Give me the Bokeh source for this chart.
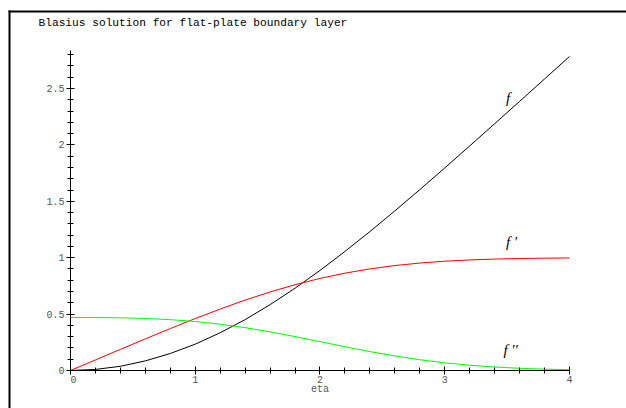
import numpy as np
from bokeh.plotting import figure
from bokeh.models import Range1d, FixedTicker, Label, BoxAnnotation
from bokeh.embed import file_html
from bokeh.resources import INLINE

# ---- data ----
eta = [0.0, 0.2, 0.4, 0.6, 0.8, 1.0, 1.2, 1.4, 1.6, 1.8, 2.0,
       2.2, 2.4, 2.6, 2.8, 3.0, 3.2, 3.4, 3.6, 3.8, 4.0]
f = [0.0, 0.0094, 0.0375, 0.0852, 0.1507, 0.2333, 0.3347, 0.4511, 0.5837, 0.7295, 0.8871,
     1.0555, 1.2316, 1.4151, 1.6034, 1.7957, 1.9907, 2.1875, 2.3857, 2.5846, 2.7840]
fp = [0.0, 0.0939, 0.1876, 0.2805, 0.3718, 0.4606, 0.5449, 0.6242, 0.6963, 0.7606, 0.8164,
      0.8628, 0.9010, 0.9302, 0.9526, 0.9689, 0.9802, 0.9879, 0.9928, 0.9959, 0.9977]
fpp = [0.4696, 0.4694, 0.4671, 0.4615, 0.4508, 0.4343, 0.4101, 0.3796, 0.3422, 0.3003, 0.2557,
       0.2107, 0.1676, 0.1289, 0.0954, 0.0680, 0.0467, 0.0306, 0.0196, 0.0118, 0.0070]

x_major = [0, 1, 2, 3, 4]
x_minor = [round(0.2 * i, 1) for i in range(21)]
y_major = [0, 0.5, 1, 1.5, 2, 2.5]
y_minor = [round(0.1 * i, 1) for i in range(29)]

title_text = "Blasius solution for flat-plate boundary layer"
x_label = "eta"
curve_names = ["f", "f '", "f ''"]
curve_colors = ["black", "#ff0000", "#00ff00"]

# ---- figure ----
W, H = 626, 408
p = figure(width=W, height=H, output_backend="svg", toolbar_location=None,
           x_range=Range1d(-0.5611, 4.4569), y_range=Range1d(-0.3369, 3.2801),
           min_border=0, background_fill_color="white", border_fill_color="white")
p.title.visible = False
p.outline_line_color = None
p.grid.visible = False

# frame border: left and top edges (the rest runs off the page)
box_kw = dict(left_units="screen", right_units="screen", top_units="screen",
              bottom_units="screen", fill_color="black", fill_alpha=1,
              line_color=None)
p.add_layout(BoxAnnotation(left=8, right=10, top=H - 10, bottom=0, **box_kw))
p.add_layout(BoxAnnotation(left=8, right=W, top=H - 10, bottom=H - 12, **box_kw))

for ys, c in zip([f, fp, fpp], curve_colors):
    p.line(eta, ys, line_color=c, line_width=1)

mono = "Liberation Mono"
xa = p.xaxis[0]
xa.fixed_location = 0
xa.bounds = (0, 4)
xa.ticker = FixedTicker(ticks=x_major, minor_ticks=x_minor)
xa.major_label_overrides = {0: "\u00a00"}
xa.axis_label = x_label

ya = p.yaxis[0]
ya.fixed_location = 0
ya.bounds = (0, 2.84)
ya.ticker = FixedTicker(ticks=y_major, minor_ticks=y_minor)

for ax in (xa, ya):
    ax.axis_line_color = "black"
    ax.axis_line_width = 1
    ax.major_tick_in = 4
    ax.major_tick_out = 4
    ax.minor_tick_in = 3
    ax.minor_tick_out = 3
    ax.major_tick_line_color = "black"
    ax.minor_tick_line_color = "black"
    ax.major_label_text_font = mono
    ax.major_label_text_font_size = "10px"
    ax.major_label_text_color = "#555555"
    ax.axis_label_text_font = mono
    ax.axis_label_text_font_size = "10px"
    ax.axis_label_text_font_style = "normal"
    ax.axis_label_text_color = "#555555"
xa.major_label_standoff = 1
ya.major_label_standoff = 2
xa.axis_label_standoff = -6

p.add_layout(Label(x=38, y=H - 22, x_units="screen", y_units="screen", text=title_text,
                   text_font=mono, text_font_size="11.2px", text_baseline="alphabetic",
                   text_align="left", text_color="black"))

label_pos = [(3.49, 2.42), (3.49, 1.14), (3.47, 0.186)]
for name, (lx, ly) in zip(curve_names, label_pos):
    p.add_layout(Label(x=lx, y=ly, text=name, text_font="Liberation Serif",
                       text_font_style="italic", text_font_size="15px",
                       text_align="left", text_baseline="middle", text_color="black"))

open("out.html", "w").write(file_html(p, INLINE))
